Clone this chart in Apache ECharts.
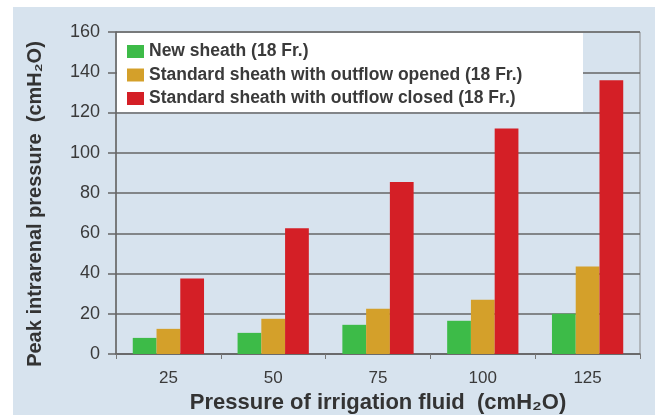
<!DOCTYPE html>
<html>
<head>
<meta charset="utf-8">
<script src="https://cdn.jsdelivr.net/npm/echarts@6/dist/echarts.min.js"></script>
<style>
html,body{margin:0;padding:0;background:#ffffff;width:655px;height:415px;overflow:hidden;}
#c{position:absolute;left:13px;top:7px;width:642px;height:408px;background:#d7e3ee;}
</style>
</head>
<body>
<div id="c"></div>
<script>
var categories = ['25', '50', '75', '100', '125'];
var seriesNames = ['New sheath (18 Fr.)', 'Standard sheath with outflow opened (18 Fr.)', 'Standard sheath with outflow closed (18 Fr.)'];
var newSheath = [8, 10.5, 14.5, 16.5, 20];
var outflowOpened = [12.5, 17.5, 22.5, 27, 43.5];
var outflowClosed = [37.5, 62.5, 85.5, 112, 136];
var yMin = 0, yMax = 160, yStep = 20;

var chart = echarts.init(document.getElementById('c'), null, {renderer: 'canvas'});
var font = '"Liberation Sans", Arial, Helvetica, sans-serif';
var colors = ['#3dbb48', '#d4a02a', '#d41f26'];
var gridCol = '#666666';

chart.setOption({
  animation: false,
  color: colors,
  textStyle: {fontFamily: font},
  grid: {left: 103, right: 15, top: 25, bottom: 61, show: true, borderColor: '#8a8a8a', borderWidth: 1, backgroundColor: 'transparent', outerBoundsMode: 'none', containLabel: false},
  graphic: [{
    type: 'rect', z: 3, silent: true,
    shape: {x: 104, y: 26, width: 466, height: 79},
    style: {fill: '#ffffff'}
  }],
  legend: {
    orient: 'vertical', left: 114, top: 35.5, z: 10, padding: 0,
    itemWidth: 17, itemHeight: 13, itemGap: 5.5,
    icon: 'rect',
    textStyle: {fontFamily: font, fontSize: 17.5, fontWeight: 'bold', color: '#3a3a3a', lineHeight: 17},
    data: seriesNames
  },
  xAxis: {
    type: 'category', data: categories,
    name: 'Pressure of irrigation fluid  (cmH\u2082O)',
    nameLocation: 'middle', nameGap: 32,
    nameTextStyle: {fontFamily: font, fontSize: 22, fontWeight: 'bold', color: '#333'},
    axisLine: {lineStyle: {color: gridCol, width: 1.5}},
    axisTick: {show: true, length: 5, lineStyle: {color: '#777'}},
    axisLabel: {fontFamily: font, fontSize: 17, color: '#3a3a3a', margin: 16}
  },
  yAxis: {
    type: 'value', min: yMin, max: yMax, interval: yStep,
    name: 'Peak intrarenal pressure  (cmH\u2082O)',
    nameLocation: 'middle', nameGap: 71, nameRotate: 90,
    nameTextStyle: {fontFamily: font, fontSize: 20, fontWeight: 'bold', color: '#333', padding: [0, 22, 0, 0]},
    axisLine: {show: true, lineStyle: {color: gridCol, width: 1.5}},
    axisTick: {show: true, length: 8, lineStyle: {color: gridCol, width: 1.5}},
    axisLabel: {fontFamily: font, fontSize: 18, color: '#3a3a3a', margin: 16},
    splitLine: {show: true, lineStyle: {color: gridCol, width: 1.5}}
  },
  series: [
    {name: seriesNames[0], type: 'bar', data: newSheath, barGap: '0%', barCategoryGap: '32%'},
    {name: seriesNames[1], type: 'bar', data: outflowOpened, barGap: '0%', barCategoryGap: '32%'},
    {name: seriesNames[2], type: 'bar', data: outflowClosed, barGap: '0%', barCategoryGap: '32%'}
  ]
});
</script>
</body>
</html>
